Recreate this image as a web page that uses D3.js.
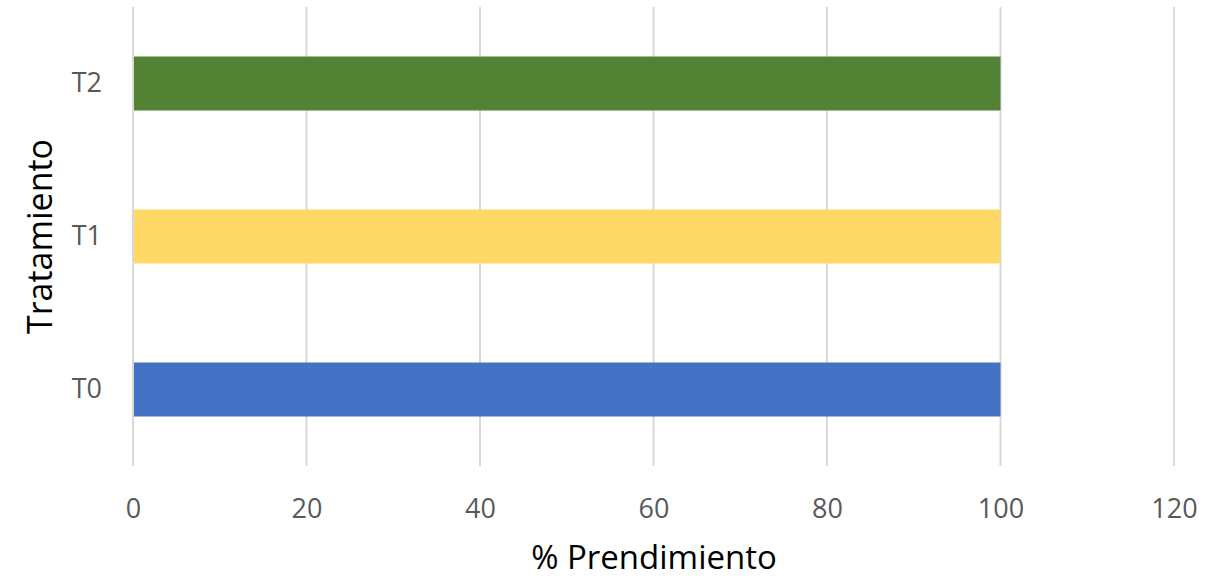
<!DOCTYPE html>
<html>
<head>
<meta charset="utf-8">
<script src="https://cdn.jsdelivr.net/npm/d3@7"></script>
<style>
  html, body { margin: 0; padding: 0; background: #fff; }
  svg { display: block; }
  text { font-family: "Open Sans", "Noto Sans", sans-serif; }
</style>
</head>
<body>
<svg id="chart" width="1222" height="579"></svg>
<script>
// Treatments, bottom to top as drawn on the category axis
const categories = ["T0", "T1", "T2"];
const values = [100, 100, 100];
const barColors = ["#4472C4", "#FFD966", "#548235"];
const xTicks = [0, 20, 40, 60, 80, 100, 120];
const xTitle = "% Prendimiento";
const yTitle = "Tratamiento";

const svg = d3.select("#chart");
const plotLeft = 133, plotRight = 1174, plotTop = 7, plotBottom = 466;

const x = d3.scaleLinear().domain([0, 120]).range([plotLeft, plotRight]);
const y = d3.scaleBand()
  .domain(categories.slice().reverse())
  .range([plotTop, plotBottom])
  .paddingInner(0.647)
  .paddingOuter(0.3235);

// vertical gridlines
svg.append("g")
  .selectAll("line")
  .data(xTicks)
  .join("line")
  .attr("x1", d => x(d)).attr("x2", d => x(d))
  .attr("y1", plotTop).attr("y2", plotBottom)
  .attr("stroke", "#d9d9d9")
  .attr("stroke-width", 2);

// bars
svg.append("g")
  .selectAll("rect")
  .data(categories)
  .join("rect")
  .attr("x", x(0) + 1)
  .attr("y", d => y(d))
  .attr("width", (d, i) => x(values[i]) - x(0) - 1)
  .attr("height", y.bandwidth())
  .attr("fill", (d, i) => barColors[i]);

// x axis tick labels
const xAxis = d3.axisBottom(x).tickValues(xTicks).tickSize(0).tickPadding(0);
const gx = svg.append("g").attr("transform", `translate(0, ${plotBottom + 52})`).call(xAxis);
gx.select(".domain").remove();
gx.selectAll("text")
  .attr("dy", 0)
  .attr("font-family", "'Open Sans', 'Noto Sans', sans-serif")
  .attr("font-size", 27)
  .attr("fill", "#595959");

// y axis tick labels
const yAxis = d3.axisLeft(y).tickSize(0).tickPadding(31);
const gy = svg.append("g").attr("transform", `translate(${plotLeft}, 0)`).call(yAxis);
gy.select(".domain").remove();
gy.selectAll("text")
  .attr("font-family", "'Open Sans', 'Noto Sans', sans-serif")
  .attr("font-size", 27)
  .attr("fill", "#595959");

// axis titles
svg.append("text")
  .attr("x", 654)
  .attr("y", 569)
  .attr("text-anchor", "middle")
  .attr("font-size", 33)
  .attr("fill", "#000")
  .text(xTitle);

svg.append("text")
  .attr("transform", `translate(52, ${(plotTop + plotBottom) / 2}) rotate(-90)`)
  .attr("text-anchor", "middle")
  .attr("font-size", 34)
  .attr("fill", "#000")
  .text(yTitle);
</script>
</body>
</html>
